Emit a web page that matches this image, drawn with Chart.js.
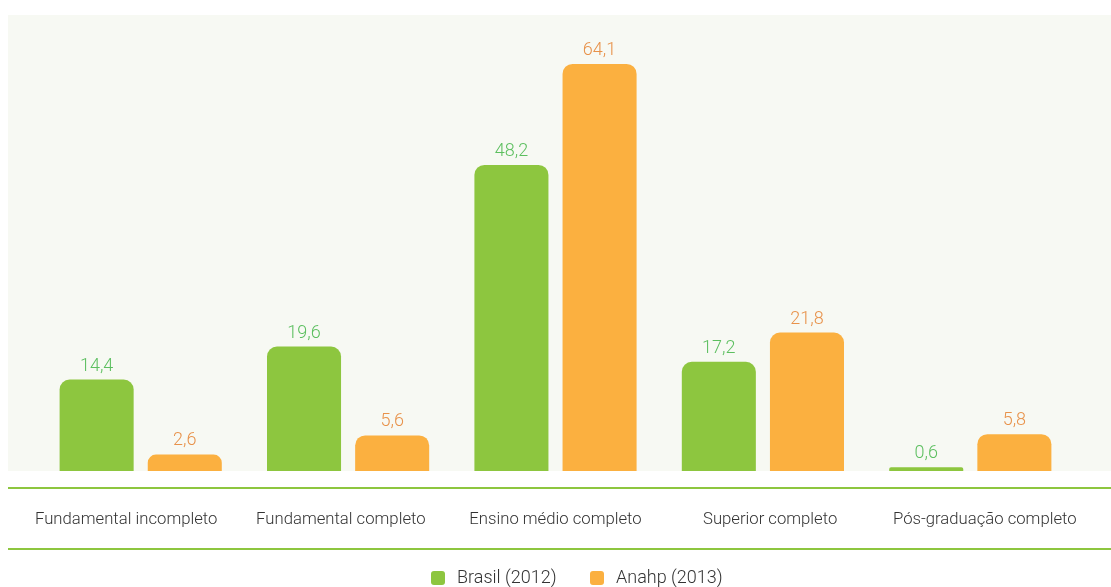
<!DOCTYPE html>
<html>
<head>
<meta charset="utf-8">
<script src="https://cdn.jsdelivr.net/npm/chart.js@4/dist/chart.umd.min.js"></script>
<style>
  html, body { margin: 0; padding: 0; background: #ffffff; }
  #wrap { width: 1111px; height: 587px; position: relative; }
</style>
</head>
<body>
<div id="wrap"><canvas id="escolaridadeChart"></canvas></div>
<script>
    // Escolaridade - Brasil x Anahp
    const categories = ['Fundamental incompleto', 'Fundamental completo', 'Ensino médio completo', 'Superior completo', 'Pós-graduação completo'];
    const brasil2012 = [14.4, 19.6, 48.2, 17.2, 0.6];
    const anahp2013 = [2.6, 5.6, 64.1, 21.8, 5.8];
    const seriesNames = ['Brasil (2012)', 'Anahp (2013)'];

    const FONT = 'Roboto, "Liberation Sans", sans-serif';
    const GREEN = '#8dc63f';
    const ORANGE = '#fbb040';
    const labelColors = ['#5cbf5f', '#e8924a'];

    // background panel, green rules, category labels, value labels and legend
    const decor = {
      id: 'decor',
      beforeDraw(chart) {
        const { ctx, chartArea } = chart;
        ctx.save();
        ctx.fillStyle = '#f7f9f3';
        ctx.fillRect(8, chartArea.top, chart.width - 8, chartArea.bottom - chartArea.top);
        ctx.restore();
      },
      afterDraw(chart) {
        const { ctx } = chart;
        const x = chart.scales.x;
        const mid = chart.width / 2;
        ctx.save();
        // rules
        ctx.strokeStyle = GREEN;
        ctx.lineWidth = 2;
        [488, 549].forEach(y => {
          ctx.beginPath();
          ctx.moveTo(8, y);
          ctx.lineTo(chart.width, y);
          ctx.stroke();
        });
        // category labels (spread a little wider than the bars, like the original)
        ctx.fillStyle = '#333333';
        ctx.font = '300 16.7px ' + FONT;
        ctx.textAlign = 'center';
        ctx.textBaseline = 'middle';
        categories.forEach((c, i) => {
          const px = mid + (x.getPixelForValue(i) - mid) * 1.035;
          ctx.fillText(c, px, 520);
        });
        // value labels
        ctx.font = '300 18px ' + FONT;
        ctx.textBaseline = 'alphabetic';
        chart.data.datasets.forEach((ds, di) => {
          const meta = chart.getDatasetMeta(di);
          ctx.fillStyle = labelColors[di];
          meta.data.forEach((bar, i) => {
            ctx.fillText(String(ds.data[i]).replace('.', ','), bar.x, bar.y - 9);
          });
        });
        // legend
        ctx.textAlign = 'left';
        ctx.textBaseline = 'middle';
        ctx.font = '300 18px ' + FONT;
        const startX = [431, 590];
        chart.data.datasets.forEach((ds, di) => {
          ctx.fillStyle = ds.backgroundColor;
          ctx.beginPath();
          ctx.roundRect(startX[di], 571, 14, 14, 3);
          ctx.fill();
          ctx.fillStyle = '#333333';
          ctx.fillText(ds.label, startX[di] + 26, 578);
        });
        ctx.restore();
      }
    };

    const ctx = document.getElementById('escolaridadeChart').getContext('2d');
    new Chart(ctx, {
      type: 'bar',
      data: {
        labels: categories,
        datasets: [
          {
            label: seriesNames[0],
            data: brasil2012,
            backgroundColor: GREEN,
            borderRadius: { topLeft: 10, topRight: 10 },
            borderSkipped: 'bottom'
          },
          {
            label: seriesNames[1],
            data: anahp2013,
            backgroundColor: ORANGE,
            borderRadius: { topLeft: 10, topRight: 10 },
            borderSkipped: 'bottom'
          }
        ]
      },
      options: {
        responsive: true,
        maintainAspectRatio: false,
        animation: false,
        layout: { padding: { left: 37, right: 37, top: 15, bottom: 116 } },
        categoryPercentage: 0.85,
        barPercentage: 0.84,
        plugins: {
          legend: { display: false },
          tooltip: { enabled: false }
        },
        scales: {
          x: { display: false },
          y: { display: false, min: 0, max: 71.8 }
        }
      },
      plugins: [decor]
    });
</script>
</body>
</html>
